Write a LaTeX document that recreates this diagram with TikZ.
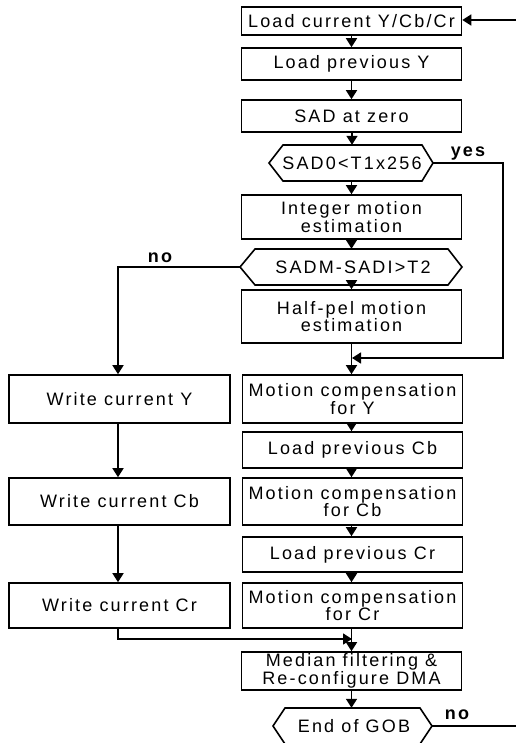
\documentclass[tikz,border=0pt]{standalone}
\usepackage{fontspec}
\setmainfont{Liberation Sans}[LetterSpace=12]
\usetikzlibrary{arrows.meta}
\tikzset{
  box/.style={draw, line width=1.6pt, inner sep=0pt, align=center, minimum width=220pt,
    font=\fontsize{18}{15}\selectfont},
  hexlbl/.style={inner sep=0pt, align=center, minimum height=36pt,
    font=\fontsize{18}{15}\selectfont},
  ln/.style={line width=1.6pt},
  arr/.style={line width=1.6pt, -{Triangle[width=11pt,length=9pt]}},
  lbl/.style={font=\bfseries\fontsize{18}{18}\selectfont, anchor=base, inner sep=0pt}
}
\begin{document}
\begin{tikzpicture}[x=1pt,y=-1pt]
\useasboundingbox (0,0) rectangle (515,743);
% right column
\node[box, minimum height=28pt] (n1) at (351.5,21) {Load current Y/Cb/Cr};
\node[box, minimum height=32pt] (n2) at (351.5,64) {Load previous Y};
\node[box, minimum height=32pt] (n3) at (351.5,116) {SAD at zero};
\node[hexlbl] (h1) at (352,163) {SAD0<T1x256};
\coordinate (h1w) at (269,163); \coordinate (h1e) at (433,163);
\draw[ln] (h1w) -- (283,145) -- (422,145) -- (h1e) -- (422,181) -- (283,181) -- cycle;
\node[box, minimum height=44pt, font=\fontsize{18}{18}\selectfont] (n5) at (351.5,217) {Integer motion\\estimation};
\node[hexlbl] (h2) at (353,267) {SADM-SADI>T2};
\coordinate (h2w) at (240,267); \coordinate (h2e) at (462,267);
\draw[ln] (h2w) -- (255,249) -- (448,249) -- (h2e) -- (448,285) -- (255,285) -- cycle;
\node[box, minimum height=53pt, font=\fontsize{18}{17}\selectfont] (n7) at (351.5,316.5) {Half-pel motion\\estimation};
\node[box, minimum height=48pt] (m1) at (352.5,399) {Motion compensation\\for Y};
\node[box, minimum height=36pt] (n9) at (352.5,450) {Load previous Cb};
\node[box, minimum height=47pt] (m2) at (352.5,501.5) {Motion compensation\\for Cb};
\node[box, minimum height=35pt] (n11) at (352.5,554.5) {Load previous Cr};
\node[box, minimum height=45pt] (m3) at (352.5,605.5) {Motion compensation\\for Cr};
\node[box, minimum height=38pt, font=\fontsize{18}{14}\selectfont] (med) at (351.5,671) {Median filtering \&\\Re-configure DMA};
\node[hexlbl] (h3) at (354,726) {End of GOB};
\coordinate (h3w) at (273,726); \coordinate (h3e) at (432,726);
\draw[ln] (h3w) -- (285,708) -- (420,708) -- (h3e) -- (420,744) -- (285,744) -- cycle;
% left column
\node[box, minimum width=221pt, minimum height=48pt] (w1) at (119.5,399) {Write current Y};
\node[box, minimum width=221pt, minimum height=47pt] (w2) at (119.5,501.5) {Write current Cb};
\node[box, minimum width=221pt, minimum height=45pt] (w3) at (119.5,605.5) {Write current Cr};
% coordinates
\coordinate (j1) at (352,358);
\coordinate (j2) at (352,639);
\coordinate (yesc) at (503,163);
\coordinate (topR) at (540,20);
\coordinate (botR) at (540,726);
% connectors
\draw[arr] (n1.south) -- (n2.north);
\draw[arr] (n2.south) -- (n3.north);
\draw[arr] (n3.south -| h1.north) -- (h1.north);
\draw[arr] (h1.south -| n5.north) -- (n5.north);
\draw[arr] (n5.south) -- (n5.south |- h2.north);
\draw[arr] (n7.north |- h2.south) -- (n7.north);
\draw[arr] (n7.south) -- (m1.north -| n7.south);
\draw[arr] (h1e) -- (yesc) |- (j1);
\draw[arr] (m1.south -| n7.south) -- (n9.north -| n7.south);
\draw[arr] (n9.south -| n7.south) -- (m2.north -| n7.south);
\draw[arr] (m2.south -| n7.south) -- (n11.north -| n7.south);
\draw[arr] (n11.south -| n7.south) -- (m3.north -| n7.south);
\draw[arr] (m3.south -| n7.south) -- (med.north -| n7.south);
\draw[arr] (med.south -| n7.south) -- (h3.north -| n7.south);
\draw[arr] (h2w) -| (w1.north -| 118,0);
\draw[arr] (w1.south -| 118,0) -- (w2.north -| 118,0);
\draw[arr] (w2.south -| 118,0) -- (w3.north -| 118,0);
\draw[arr] (w3.south -| 118,0) |- (j2);
\draw[arr] (h3e) -- (botR) -- (topR) -- (n1.east |- topR);
% labels
\node[lbl] (yes) at (468,157) {yes};
\node[lbl] (no1) at (160,262) {no};
\node[lbl] (no2) at (457,719) {no};
\end{tikzpicture}
\end{document}
